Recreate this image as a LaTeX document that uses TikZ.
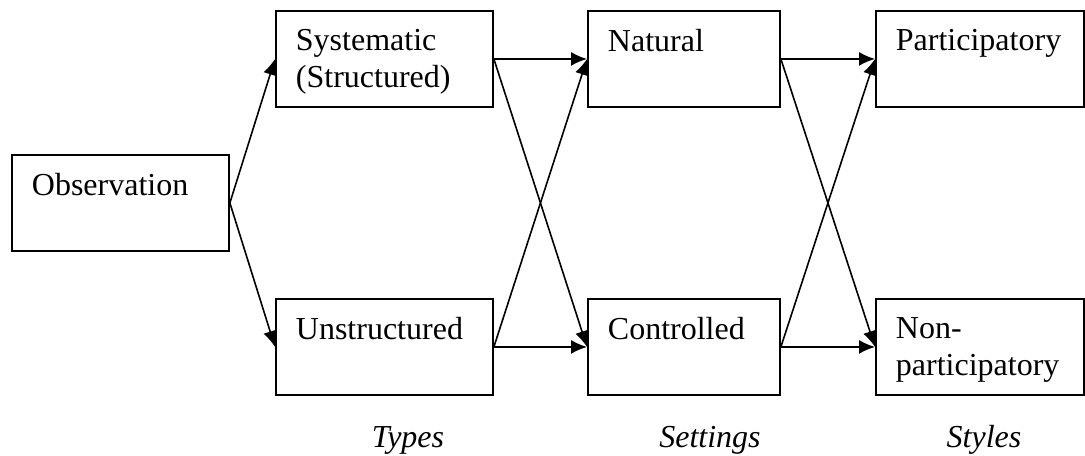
\documentclass[tikz,border=0pt]{standalone}
\usepackage{fontspec}
\setmainfont{Liberation Serif}
\usetikzlibrary{arrows.meta}
\newcommand{\boxtext}[2]{\parbox[t][44pt][t]{#1}{\raggedright #2}}

\begin{document}
\begin{tikzpicture}[x=0.75pt,y=-0.75pt]
\tikzset{box/.style = {shape=rectangle,draw,line width=1.4pt,anchor=north west,inner xsep=15pt,inner ysep=14pt,font=\fontsize{24}{27.75}\selectfont}}
\tikzset{edge/.style = {line width=1.2pt,-{Latex[length=12pt,width=10.5pt]}}}
\tikzset{caption/.style = {anchor=base,font=\fontsize{24}{28}\selectfont\itshape}}
\useasboundingbox (0,0) rectangle (1085,455);
% boxes
\node[box] (obs) at (11,154) {\boxtext{132.75pt}{Observation}};
\node[box] (sys) at (275,10) {\boxtext{132.75pt}{Systematic\\(Structured)}};
\node[box] (uns) at (275,298) {\boxtext{132.75pt}{Unstructured}};
\node[box] (nat) at (587,10) {\boxtext{114pt}{Natural}};
\node[box] (con) at (587,298) {\boxtext{114pt}{Controlled}};
\node[box] (par) at (875,10) {\boxtext{126pt}{Participatory}};
\node[box] (non) at (875,298) {\boxtext{126pt}{Non-\\participatory}};
% captions
\node[caption] (types) at (408,447) {Types};
\node[caption] (settings) at (710,447) {Settings};
\node[caption] (styles) at (984,447) {Styles};
% edges
\draw[edge] (obs.east) to (sys.west);
\draw[edge] (obs.east) to (uns.west);
\draw[edge] (sys.east) to (nat.west);
\draw[edge] (sys.east) to (con.west);
\draw[edge] (uns.east) to (nat.west);
\draw[edge] (uns.east) to (con.west);
\draw[edge] (nat.east) to (par.west);
\draw[edge] (nat.east) to (non.west);
\draw[edge] (con.east) to (par.west);
\draw[edge] (con.east) to (non.west);
\end{tikzpicture}
\end{document}
